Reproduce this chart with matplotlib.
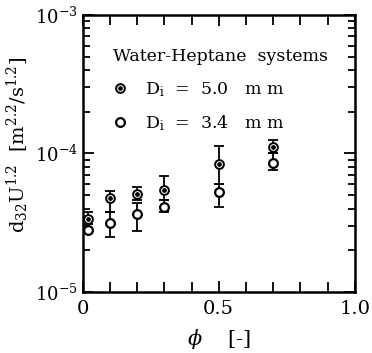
import matplotlib
matplotlib.use("Agg")
import matplotlib.pyplot as plt
from matplotlib.ticker import FixedLocator, LogLocator, NullFormatter

plt.rcParams['font.family'] = ['DejaVu Serif']
plt.rcParams['mathtext.fontset'] = 'dejavuserif'

# Volume fraction of dispersed phase
phi = [0.02, 0.1, 0.2, 0.3, 0.5, 0.7]

# Di = 5.0 mm (dotted circles)
d50 = [3.37e-5, 4.80e-5, 5.10e-5, 5.45e-5, 8.36e-5, 1.11e-4]
d50_hi = [3.80e-5, 5.39e-5, 5.70e-5, 6.88e-5, 1.13e-4, 1.25e-4]
d50_lo = [3.10e-5, 3.80e-5, 4.62e-5, 4.62e-5, 6.02e-5, 1.00e-4]

# Di = 3.4 mm (open circles)
d34 = [2.80e-5, 3.16e-5, 3.66e-5, 4.13e-5, 5.30e-5, 8.49e-5]
d34_hi = [2.80e-5, 3.80e-5, 4.39e-5, 4.62e-5, 6.02e-5, 1.00e-4]
d34_lo = [2.80e-5, 2.48e-5, 2.74e-5, 3.80e-5, 4.13e-5, 7.60e-5]

fig = plt.figure(figsize=(3.72, 3.53), dpi=100)
ax = fig.add_axes([0.222, 0.173, 0.732, 0.785])

err50 = [[v - lo for v, lo in zip(d50, d50_lo)], [hi - v for v, hi in zip(d50, d50_hi)]]
err34 = [[v - lo for v, lo in zip(d34, d34_lo)], [hi - v for v, hi in zip(d34, d34_hi)]]

ax.errorbar(phi, d50, yerr=err50, fmt='none', ecolor='black', elinewidth=1.3, capsize=3.3, capthick=1.3)
ax.errorbar(phi, d34, yerr=err34, fmt='none', ecolor='black', elinewidth=1.3, capsize=3.3, capthick=1.3)

ring, = ax.plot(phi, d50, 'o', ms=6.3, mfc='white', mec='black', mew=1.4, ls='none')
dot, = ax.plot(phi, d50, 'o', ms=2.4, mfc='black', mec='black', ls='none')
opn, = ax.plot(phi, d34, 'o', ms=6.3, mfc='white', mec='black', mew=1.6, ls='none')

leg = ax.legend([(ring, dot), opn],
                [r'D$_{\rm i}$  =  5.0   m m', r'D$_{\rm i}$  =  3.4   m m'],
                title='Water-Heptane  systems', loc='upper left',
                bbox_to_anchor=(0.088, 0.905), frameon=False, fontsize=12.5,
                title_fontsize=12.5, handlelength=0.8, handletextpad=1.0,
                labelspacing=0.8, borderaxespad=0)
leg._legend_box.align = 'left'
leg._legend_box.sep = 11

ax.set_yscale('log')
ax.set_xlim(0, 1.0)
ax.set_ylim(1e-5, 1e-3)

ax.xaxis.set_major_locator(FixedLocator([0, 0.5, 1.0]))
ax.xaxis.set_minor_locator(FixedLocator([0.1, 0.2, 0.3, 0.4, 0.6, 0.7, 0.8, 0.9]))
ax.set_xticklabels(['0', '0.5', '1.0'])
ax.yaxis.set_major_locator(LogLocator(base=10, numticks=5))
ax.yaxis.set_minor_locator(LogLocator(base=10, subs=range(2, 10), numticks=20))
ax.yaxis.set_minor_formatter(NullFormatter())

ax.tick_params(which='both', direction='in', top=True, right=True, width=1.3)
ax.tick_params(which='major', length=8)
ax.tick_params(which='minor', length=5)
ax.tick_params(axis='x', which='minor', length=7)
ax.tick_params(axis='x', pad=6, labelsize=14)
ax.tick_params(axis='y', labelsize=13)

for s in ax.spines.values():
    s.set_linewidth(1.8)

ax.set_xlabel(r'$\phi$    [-]', fontsize=15, labelpad=6)
ax.set_ylabel(r'd$_{32}$U$^{1.2}$  [m$^{2.2}$/s$^{1.2}$]', fontsize=14)
ax.yaxis.set_label_coords(-0.19, 0.53)

fig.savefig('out.png', dpi=100)
